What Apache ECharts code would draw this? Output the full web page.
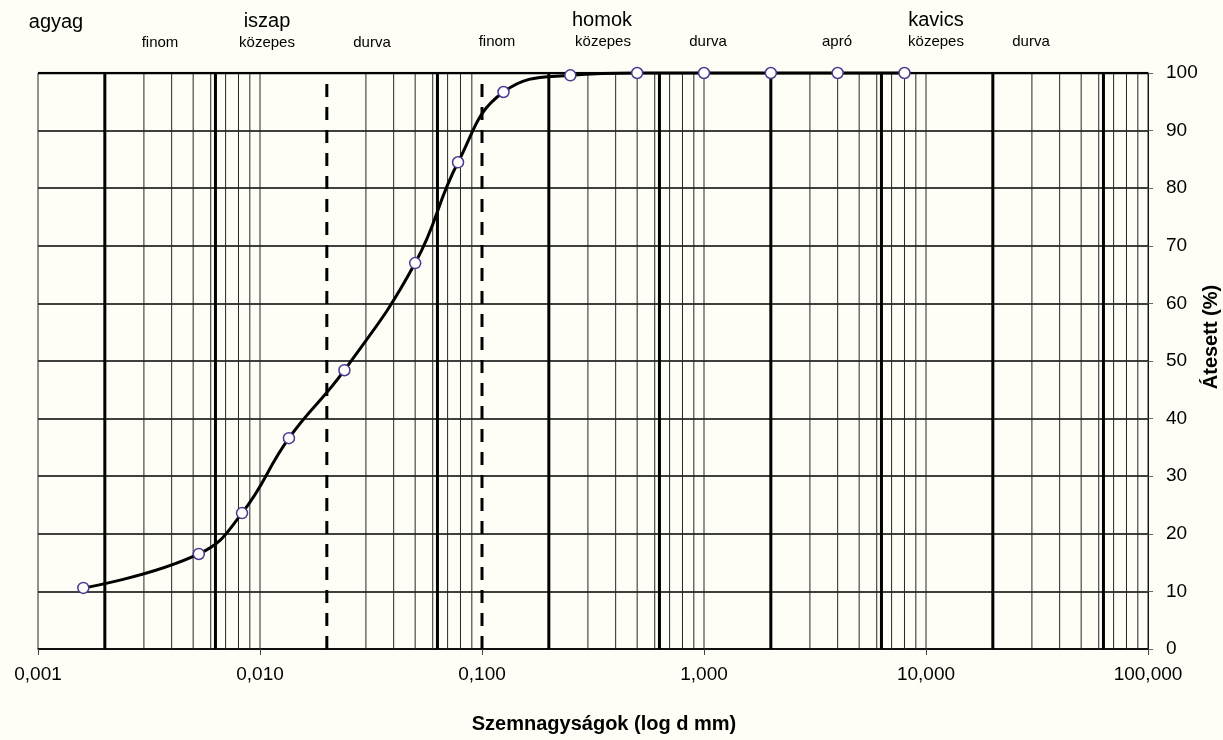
<!DOCTYPE html>
<html>
<head>
<meta charset="utf-8">
<script src="https://cdn.jsdelivr.net/npm/echarts@6/dist/echarts.min.js"></script>
<style>
  html, body { margin: 0; padding: 0; background: #fefef6; }
  #chart { width: 1223px; height: 740px; }
</style>
</head>
<body>
<div id="chart"></div>
<script>
// Grain size distribution (szemeloszlási görbe)
const grainSize = [0.0016, 0.0053, 0.0083, 0.0135, 0.024, 0.05, 0.078, 0.125, 0.25, 0.5, 1, 2, 4, 8];
const passing   = [10.6, 16.5, 23.6, 36.6, 48.4, 67.0, 84.5, 96.7, 99.6, 100, 100, 100, 100, 100];

// Log grid: decades and in-decade multipliers for thin lines
const decades = [0.001, 0.01, 0.1, 1, 10];
const minorMultipliers = [1, 3, 4, 5, 6, 7, 8, 9, 10];
// Fraction boundaries (thick solid) and the dashed boundaries
const boundaryLines = [0.002, 0.0063, 0.063, 0.2, 0.63, 2, 6.3, 20, 63];
const dashedLines = [0.02, 0.1];

// Fraction names above the plot
const mainLabels = [
  { text: 'agyag',  x: 56,  y: 22 },
  { text: 'iszap',  x: 267, y: 21 },
  { text: 'homok',  x: 602, y: 20 },
  { text: 'kavics', x: 936, y: 20 }
];
const subLabels = [
  { text: 'finom',   x: 160,  y: 43 },
  { text: 'közepes', x: 267,  y: 43 },
  { text: 'durva',   x: 372,  y: 43 },
  { text: 'finom',   x: 497,  y: 42 },
  { text: 'közepes', x: 603,  y: 42 },
  { text: 'durva',   x: 708,  y: 42 },
  { text: 'apró',    x: 837,  y: 42 },
  { text: 'közepes', x: 936,  y: 42 },
  { text: 'durva',   x: 1031, y: 42 }
];

const FONT = '"Liberation Sans", Arial, sans-serif';
const X_MIN = 0.001, X_MAX = 100, Y_MIN = 0, Y_MAX = 100;

const minorLines = [];
decades.forEach(d => minorMultipliers.forEach(m => {
  const v = +(d * m).toPrecision(6);
  if (!dashedLines.includes(v) && !minorLines.includes(v)) minorLines.push(v);
}));

// One two-point series per vertical grid line
function verticalSeries(values, lineStyle, z) {
  return values.map(v => ({
    type: 'line', silent: true, z: z, symbol: 'none', animation: false,
    lineStyle: lineStyle,
    data: [[v, Y_MIN], [v, Y_MAX]]
  }));
}

const chart = echarts.init(document.getElementById('chart'), null, { renderer: 'canvas' });

const graphics = [];
mainLabels.forEach(l => graphics.push({
  type: 'text', x: l.x, y: l.y,
  style: { text: l.text, font: '20px ' + FONT, fill: '#000', textAlign: 'center', textVerticalAlign: 'middle' }
}));
subLabels.forEach(l => graphics.push({
  type: 'text', x: l.x, y: l.y,
  style: { text: l.text, font: '15px ' + FONT, fill: '#000', textAlign: 'center', textVerticalAlign: 'middle' }
}));
graphics.push({
  type: 'text', x: 604, y: 724,
  style: { text: 'Szemnagyságok (log d mm)', font: 'bold 20px ' + FONT, fill: '#000', textAlign: 'center', textVerticalAlign: 'middle' }
});
graphics.push({
  type: 'text', x: 1211, y: 337, rotation: Math.PI / 2,
  style: { text: 'Átesett (%)', font: 'bold 20px ' + FONT, fill: '#000', textAlign: 'center', textVerticalAlign: 'middle' }
});

const series = []
  .concat(verticalSeries(minorLines, { color: '#262626', width: 1 }, 1))
  .concat(verticalSeries(boundaryLines, { color: '#000', width: 3 }, 2))
  .concat(verticalSeries(dashedLines, { color: '#000', width: 3, type: [13, 10] }, 2));

// Heavier top edge at 100 %
series.push({
  type: 'line', silent: true, z: 2, symbol: 'none', animation: false,
  lineStyle: { color: '#000', width: 2.5 },
  data: [[X_MIN, Y_MAX], [X_MAX, Y_MAX]]
});

series.push({
  name: 'Átesett',
  type: 'line',
  z: 5,
  data: grainSize.map((d, i) => [d, passing[i]]),
  smooth: 0.45,
  symbol: 'circle',
  symbolSize: 11,
  showAllSymbol: true,
  clip: false,
  lineStyle: { color: '#000', width: 3 },
  itemStyle: { color: '#ffffff', borderColor: '#4b3a8e', borderWidth: 1.5 }
});

chart.setOption({
  backgroundColor: '#fefef6',
  animation: false,
  grid: { left: 38, right: 75, top: 73, bottom: 91 },
  xAxis: {
    type: 'log',
    logBase: 10,
    min: X_MIN,
    max: X_MAX,
    axisLine: { lineStyle: { color: '#000', width: 1.5 } },
    axisTick: { show: true, length: 6, lineStyle: { color: '#444', width: 1 } },
    axisLabel: {
      color: '#000', fontFamily: FONT, fontSize: 19, margin: 16,
      formatter: v => Number(v).toFixed(3).replace('.', ',')
    },
    splitLine: { show: false }
  },
  yAxis: {
    type: 'value',
    position: 'right',
    min: Y_MIN,
    max: Y_MAX,
    interval: 10,
    axisLine: { show: true, lineStyle: { color: '#000', width: 1 } },
    axisTick: { show: true, length: 5, lineStyle: { color: '#666' } },
    axisLabel: { color: '#000', fontFamily: FONT, fontSize: 19, margin: 18 },
    splitLine: { show: true, lineStyle: { color: '#000', width: 1.5 } }
  },
  graphic: graphics,
  series: series
});
</script>
</body>
</html>
